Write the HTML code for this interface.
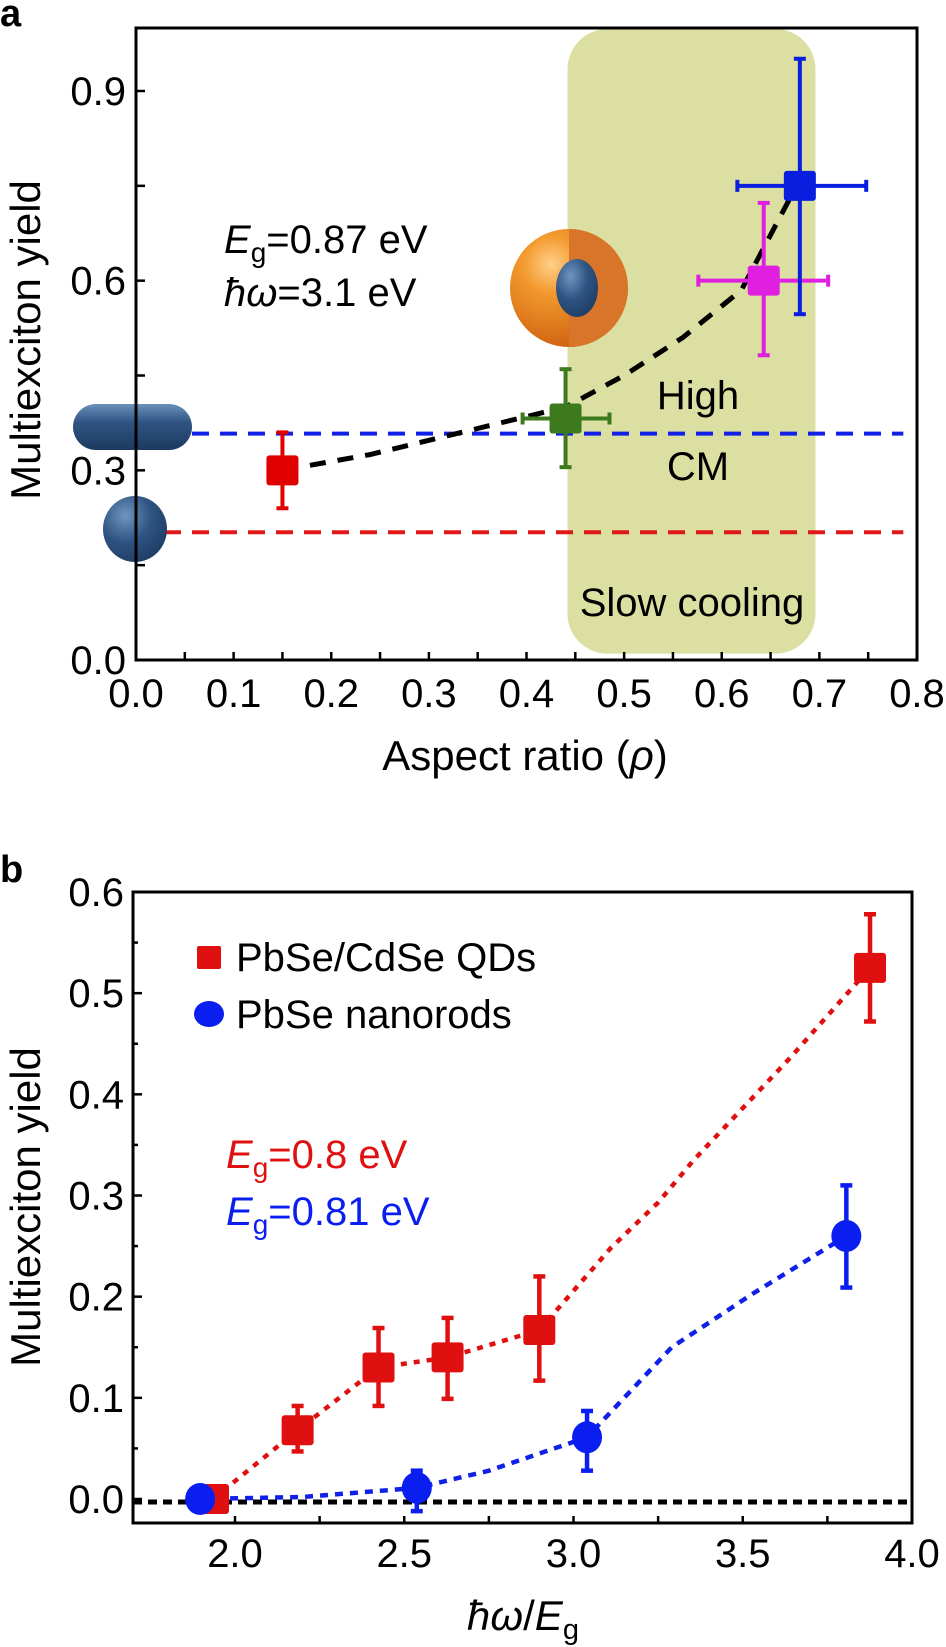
<!DOCTYPE html>
<html><head><meta charset="utf-8"><style>
body{margin:0;background:#fff}
svg{display:block;font-family:"Liberation Sans",sans-serif}
</style></head><body>
<svg id="s" width="946" height="1647" viewBox="0 0 946 1647" xmlns="http://www.w3.org/2000/svg">
<defs>
<radialGradient id="gOr" cx="0.35" cy="0.3" r="0.8"><stop offset="0" stop-color="#ffd08a"/><stop offset="0.3" stop-color="#f39a2e"/><stop offset="1" stop-color="#c95a0c"/></radialGradient>
<radialGradient id="gBl" cx="0.35" cy="0.3" r="0.8"><stop offset="0" stop-color="#6f95c0"/><stop offset="0.5" stop-color="#2f5483"/><stop offset="1" stop-color="#1d3a60"/></radialGradient>
<linearGradient id="gRod" x1="0" y1="0" x2="0" y2="1"><stop offset="0" stop-color="#6a90bb"/><stop offset="0.4" stop-color="#2f5483"/><stop offset="1" stop-color="#1d3a60"/></linearGradient>
</defs>
<g id="pa"></g>
<g id="pb"></g>
</svg>
<script>
// ---------- Panel a data ----------
const aRho = [0.15, 0.44, 0.643, 0.68];
const aYield = [0.30, 0.382, 0.60, 0.75];
const aYerrLo = [0.24, 0.305, 0.482, 0.547];
const aYerrHi = [0.36, 0.46, 0.723, 0.951];
const aXerrLo = [0.15, 0.396, 0.576, 0.616];
const aXerrHi = [0.15, 0.485, 0.709, 0.748];
const aColors = ['#e00000', '#3d7a1e', '#e020e0', '#0a1ee0'];
const aTrendX = [0.15, 0.24, 0.32, 0.40, 0.44, 0.50, 0.56, 0.62, 0.68];
const aTrendY = [0.30, 0.325, 0.355, 0.385, 0.40, 0.45, 0.51, 0.585, 0.76];
const aXTicks = [0, 0.1, 0.2, 0.3, 0.4, 0.5, 0.6, 0.7, 0.8];
const aXTickLabels = ['0.0','0.1','0.2','0.3','0.4','0.5','0.6','0.7','0.8'];
const aYTicks = [0, 0.3, 0.6, 0.9];
const aYTickLabels = ['0.0','0.3','0.6','0.9'];
const aRefYields = [0.358, 0.202];
// ---------- Panel b data ----------
const bRedX = [1.935, 2.185, 2.424, 2.628, 2.899, 3.876];
const bRedY = [0.0, 0.068, 0.13, 0.14, 0.167, 0.525];
const bRedLo = [-0.01, 0.047, 0.092, 0.099, 0.117, 0.472];
const bRedHi = [0.01, 0.092, 0.169, 0.179, 0.22, 0.578];
const bBlueX = [1.897, 2.537, 3.04, 3.806];
const bBlueY = [0.0, 0.011, 0.061, 0.26];
const bBlueLo = [-0.012, -0.012, 0.028, 0.209];
const bBlueHi = [0.012, 0.028, 0.087, 0.31];
const bRedFitX = [1.935, 2.185, 2.424, 2.628, 2.899, 3.11, 3.25, 3.355, 3.64, 3.876];
const bRedFitY = [0.0, 0.068, 0.13, 0.14, 0.167, 0.248, 0.293, 0.335, 0.436, 0.525];
const bBlueFitX = [1.897, 2.2, 2.537, 2.75, 3.04, 3.29, 3.53, 3.806];
const bBlueFitY = [0.0, 0.002, 0.011, 0.028, 0.061, 0.15, 0.203, 0.26];
const bXTicks = [2.0, 2.5, 3.0, 3.5, 4.0];
const bXTickLabels = ['2.0','2.5','3.0','3.5','4.0'];
const bYTicks = [0, 0.1, 0.2, 0.3, 0.4, 0.5, 0.6];
const bYTickLabels = ['0.0','0.1','0.2','0.3','0.4','0.5','0.6'];

const NS = 'http://www.w3.org/2000/svg';
function mk(parent, tag, attrs, text) {
  const e = document.createElementNS(NS, tag);
  for (const k in attrs) e.setAttribute(k, attrs[k]);
  if (text !== undefined) e.textContent = text;
  parent.appendChild(e);
  return e;
}
const FS = 40;

// ================= PANEL A =================
const pa = document.getElementById('pa');
const aL = 136, aR = 917, aT = 28, aB = 660;
const ax = v => aL + v / 0.8 * (aR - aL);
const ay = v => 660 - v * (660 - 91) / 0.9;

let t = mk(pa, 'text', {x: 0, y: 26, 'font-size': 38, 'font-weight': 'bold'}, 'a');



let r = mk(pa, 'rect', {x: ax(0.442), y: ay(0.998), width: ax(0.696) - ax(0.442), height: ay(0.01) - ay(0.998), rx: 40, ry: 40, fill: '#dbdfa1'});



aRefYields.forEach((v, i) => {
  const l = mk(pa, 'line', {x1: ax(0), x2: ax(0.786), y1: ay(v), y2: ay(v), stroke: i === 0 ? '#1020e8' : '#e01818', 'stroke-width': 4, 'stroke-dasharray': '17 11'});
  
  
});

let g = mk(pa, 'g', {});


mk(g, 'rect', {x: 73, y: 404, width: 119, height: 46, rx: 23, ry: 23, fill: 'url(#gRod)'});
g = mk(pa, 'g', {});


mk(g, 'ellipse', {cx: 135, cy: 529, rx: 32, ry: 33, fill: 'url(#gBl)'});
g = mk(pa, 'g', {});


mk(g, 'circle', {cx: 569, cy: 288, r: 59, fill: 'url(#gOr)'});
mk(g, 'path', {d: 'M569,229 A59,59 0 0 1 569,347 Z', fill: '#d87529'});
mk(g, 'ellipse', {cx: 577, cy: 288, rx: 21, ry: 29, fill: 'url(#gBl)'});

let d = aTrendX.map((v, i) => (i ? 'L' : 'M') + ax(v).toFixed(1) + ',' + ay(aTrendY[i]).toFixed(1)).join(' ');
let p = mk(pa, 'path', {d: d, fill: 'none', stroke: '#000', 'stroke-width': 5, 'stroke-dasharray': '16 12'});



aRho.forEach((v, i) => {
  const gg = mk(pa, 'g', {stroke: aColors[i], 'stroke-width': 4, fill: aColors[i]});
  
  
  const x = ax(v), y = ay(aYield[i]);
  mk(gg, 'line', {x1: x, x2: x, y1: ay(aYerrLo[i]), y2: ay(aYerrHi[i])});
  mk(gg, 'line', {x1: x - 6, x2: x + 6, y1: ay(aYerrLo[i]), y2: ay(aYerrLo[i])});
  mk(gg, 'line', {x1: x - 6, x2: x + 6, y1: ay(aYerrHi[i]), y2: ay(aYerrHi[i])});
  if (aXerrHi[i] > aXerrLo[i]) {
    mk(gg, 'line', {x1: ax(aXerrLo[i]), x2: ax(aXerrHi[i]), y1: y, y2: y});
    mk(gg, 'line', {x1: ax(aXerrLo[i]), x2: ax(aXerrLo[i]), y1: y - 6, y2: y + 6});
    mk(gg, 'line', {x1: ax(aXerrHi[i]), x2: ax(aXerrHi[i]), y1: y - 6, y2: y + 6});
  }
  mk(gg, 'rect', {x: x - 16, y: y - 15, width: 32, height: 30, rx: 3, stroke: 'none'});
});

r = mk(pa, 'rect', {x: aL, y: aT, width: aR - aL, height: aB - aT, fill: 'none', stroke: '#000', 'stroke-width': 3});


for (let k = 0; k <= 16; k++) {
  const v = k * 0.05, x = ax(v);
  const l = mk(pa, 'line', {x1: x, x2: x, y1: aB, y2: aB - 8, stroke: '#000', 'stroke-width': 2.5});
  
  
}
for (let k = 0; k <= 6; k++) {
  const v = k * 0.15, y = ay(v);
  const l = mk(pa, 'line', {x1: aL, x2: aL + 9, y1: y, y2: y, stroke: '#000', 'stroke-width': 2.5});
  
  
}
aXTicks.forEach((v, i) => {
  const e = mk(pa, 'text', {x: ax(v), y: 707, 'font-size': FS, 'text-anchor': 'middle'}, aXTickLabels[i]);
  
  
});
aYTicks.forEach((v, i) => {
  const e = mk(pa, 'text', {x: 126, y: ay(v) + 14, 'font-size': FS, 'text-anchor': 'end'}, aYTickLabels[i]);
  
  
});
</script>
<script>
(function(){
const pa = document.getElementById('pa');
function add(parent, html){ parent.insertAdjacentHTML('beforeend', html); }
add(pa, '<text x="525" y="770" font-size="42" text-anchor="middle">Aspect ratio (<tspan font-style="italic">ρ</tspan>)</text>');
add(pa, '<text transform="translate(40,340) rotate(-90)" font-size="42" text-anchor="middle">Multiexciton yield</text>');
add(pa, '<text x="224" y="253" font-size="40"><tspan font-style="italic">E</tspan><tspan font-size="28" dy="9">g</tspan><tspan dy="-9">=0.87 eV</tspan></text>');
add(pa, '<text x="224" y="306" font-size="40"><tspan font-style="italic">ħω</tspan>=3.1 eV</text>');
add(pa, '<text x="698" y="409" font-size="40" text-anchor="middle">High</text>');
add(pa, '<text x="698" y="480" font-size="40" text-anchor="middle">CM</text>');
add(pa, '<text x="692" y="616" font-size="40" text-anchor="middle">Slow cooling</text>');
})();
</script>
<script>
(function(){
const pb = document.getElementById('pb');
const bL = 133, bR = 912, bT = 892, bB = 1523;
const bx = v => 235 + (v - 2.0) * (912 - 235) / 2.0;
const by = v => 1499 - v * (1499 - 892) / 0.6;
function mk(parent, tag, attrs, text) {
  const e = document.createElementNS('http://www.w3.org/2000/svg', tag);
  for (const k in attrs) e.setAttribute(k, attrs[k]);
  if (text !== undefined) e.textContent = text;
  parent.appendChild(e);
  return e;
}
let t = mk(pb, 'text', {x: 0, y: 882, 'font-size': 38, 'font-weight': 'bold'}, 'b');



let l = mk(pb, 'line', {x1: bL, x2: bR, y1: by(0) + 3, y2: by(0) + 3, stroke: '#000', 'stroke-width': 5, 'stroke-dasharray': '9 6'});



let d = bRedFitX.map((v, i) => (i ? 'L' : 'M') + bx(v).toFixed(1) + ',' + by(bRedFitY[i]).toFixed(1)).join(' ');
let p = mk(pb, 'path', {d: d, fill: 'none', stroke: '#e01010', 'stroke-width': 4.5, 'stroke-dasharray': '6 7'});


d = bBlueFitX.map((v, i) => (i ? 'L' : 'M') + bx(v).toFixed(1) + ',' + by(bBlueFitY[i]).toFixed(1)).join(' ');
p = mk(pb, 'path', {d: d, fill: 'none', stroke: '#1020e8', 'stroke-width': 4.5, 'stroke-dasharray': '8 7'});



function errbar(g, x, lo, hi) {
  mk(g, 'line', {x1: x, x2: x, y1: by(lo), y2: by(hi)});
  mk(g, 'line', {x1: x - 6, x2: x + 6, y1: by(lo), y2: by(lo)});
  mk(g, 'line', {x1: x - 6, x2: x + 6, y1: by(hi), y2: by(hi)});
}
bRedX.forEach((v, i) => {
  const g = mk(pb, 'g', {stroke: '#e01010', 'stroke-width': 4.5, fill: '#e01010'});
  
  
  const x = bx(v), y = by(bRedY[i]);
  errbar(g, x, bRedLo[i], bRedHi[i]);
  mk(g, 'rect', {x: x - 16, y: y - 15, width: 32, height: 30, rx: 3, stroke: 'none'});
});
bBlueX.forEach((v, i) => {
  const g = mk(pb, 'g', {stroke: '#0a1ef0', 'stroke-width': 4.5, fill: '#0a1ef0'});
  
  
  const x = bx(v), y = by(bBlueY[i]);
  errbar(g, x, bBlueLo[i], bBlueHi[i]);
  mk(g, 'ellipse', {cx: x, cy: y, rx: 15, ry: 16, stroke: 'none'});
});

let r = mk(pb, 'rect', {x: bL, y: bT, width: bR - bL, height: bB - bT, fill: 'none', stroke: '#000', 'stroke-width': 3});


for (let k = 0; k <= 8; k++) {
  const v = 2.0 + k * 0.25;
  const e = mk(pb, 'line', {x1: bx(v), x2: bx(v), y1: bB, y2: bB - 7, stroke: '#000', 'stroke-width': 2.5});
  
  
}
for (let k = 0; k <= 12; k++) {
  const v = k * 0.05;
  const e = mk(pb, 'line', {x1: bL, x2: bL + (k % 2 ? 5 : 9), y1: by(v), y2: by(v), stroke: '#000', 'stroke-width': 2.5});
  
  
}
bXTicks.forEach((v, i) => {
  const e = mk(pb, 'text', {x: bx(v), y: 1567, 'font-size': 40, 'text-anchor': 'middle'}, bXTickLabels[i]);
  
  
});
bYTicks.forEach((v, i) => {
  const e = mk(pb, 'text', {x: 124, y: by(v) + 14, 'font-size': 40, 'text-anchor': 'end'}, bYTickLabels[i]);
  
  
});
pb.insertAdjacentHTML('beforeend',
 '<rect x="197" y="946" width="24" height="23" rx="2" fill="#e01010"/>' +
 '<text x="236" y="971" font-size="40">PbSe/CdSe QDs</text>' +
 '<ellipse cx="209" cy="1014" rx="15" ry="13" fill="#0a1ef0"/>' +
 '<text x="236" y="1028" font-size="40">PbSe nanorods</text>' +
 '<text x="226" y="1168" font-size="40" fill="#e01010"><tspan font-style="italic">E</tspan><tspan font-size="28" dy="9">g</tspan><tspan dy="-9">=0.8 eV</tspan></text>' +
 '<text x="226" y="1225" font-size="40" fill="#0a1ef0"><tspan font-style="italic">E</tspan><tspan font-size="28" dy="9">g</tspan><tspan dy="-9">=0.81 eV</tspan></text>' +
 '<text transform="translate(40,1207) rotate(-90)" font-size="42" text-anchor="middle">Multiexciton yield</text>' +
 '<text x="523" y="1630" font-size="42" text-anchor="middle"><tspan font-style="italic">ħω</tspan>/<tspan font-style="italic">E</tspan><tspan font-size="29" dy="9">g</tspan></text>');
})();
</script>
</body></html>
